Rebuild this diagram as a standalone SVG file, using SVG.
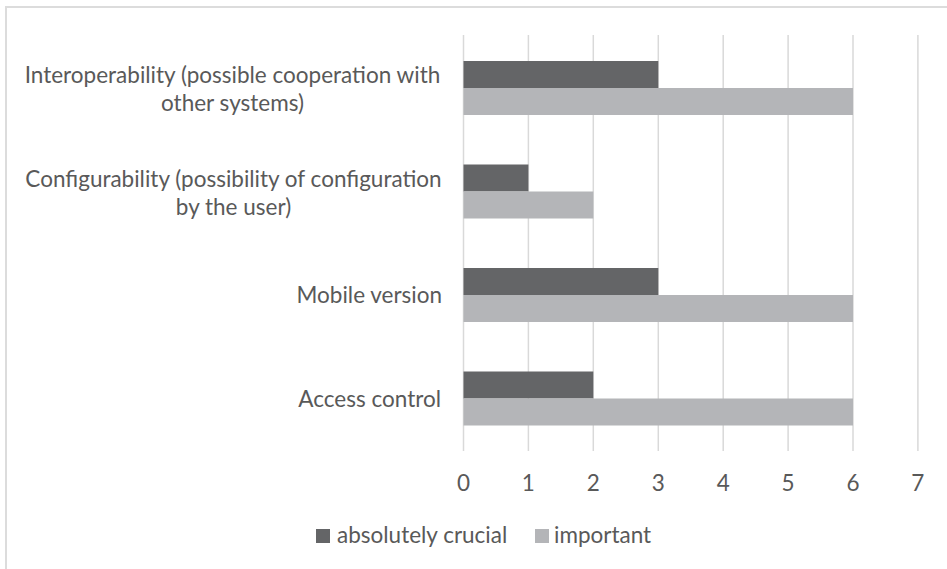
<svg xmlns="http://www.w3.org/2000/svg" width="947" height="569" viewBox="0 0 947 569">
  <style>
    .lbl { font-family: Lato, "Liberation Sans", sans-serif; font-size: 22.5px; fill: #595959; }
    .grid { stroke: #d9d9d9; stroke-width: 1.5; }
    .crucial { fill: #646567; }
    .important { fill: #b4b5b8; }
  </style>
  <rect x="0" y="0" width="947" height="569" fill="#ffffff"/>
  <!-- chart frame -->
  <rect x="6" y="7" width="1000" height="1000" fill="none" stroke="#dcdcdc" stroke-width="2"/>

  <!-- vertical gridlines at 0..7 -->
  <g id="gridlines">
    <line class="grid" x1="463.5" y1="35" x2="463.5" y2="451"/>
    <line class="grid" x1="528.4" y1="35" x2="528.4" y2="451"/>
    <line class="grid" x1="593.3" y1="35" x2="593.3" y2="451"/>
    <line class="grid" x1="658.3" y1="35" x2="658.3" y2="451"/>
    <line class="grid" x1="723.2" y1="35" x2="723.2" y2="451"/>
    <line class="grid" x1="788.1" y1="35" x2="788.1" y2="451"/>
    <line class="grid" x1="853" y1="35" x2="853" y2="451"/>
    <line class="grid" x1="917.9" y1="35" x2="917.9" y2="451"/>
  </g>

  <!-- bars -->
  <g id="interoperability">
    <rect class="crucial" x="463.5" y="61" width="194.8" height="27"/>
    <rect class="important" x="463.5" y="88" width="389.5" height="27"/>
    <text class="lbl" text-anchor="middle" x="232.5" y="83">Interoperability (possible cooperation with</text>
    <text class="lbl" text-anchor="middle" x="232.5" y="111">other systems)</text>
  </g>
  <g id="configurability">
    <rect class="crucial" x="463.5" y="164.5" width="64.9" height="27"/>
    <rect class="important" x="463.5" y="191.5" width="129.8" height="27"/>
    <text class="lbl" text-anchor="middle" x="233.5" y="187">Configurability (possibility of configuration</text>
    <text class="lbl" text-anchor="middle" x="233.5" y="215">by the user)</text>
  </g>
  <g id="mobile-version">
    <rect class="crucial" x="463.5" y="268" width="194.8" height="27"/>
    <rect class="important" x="463.5" y="295" width="389.5" height="27"/>
    <text class="lbl" text-anchor="end" x="442" y="303">Mobile version</text>
  </g>
  <g id="access-control">
    <rect class="crucial" x="463.5" y="371.5" width="129.8" height="27"/>
    <rect class="important" x="463.5" y="398.5" width="389.5" height="27"/>
    <text class="lbl" text-anchor="end" x="441" y="407">Access control</text>
  </g>

  <!-- value axis labels -->
  <g id="axis" class="lbl" text-anchor="middle">
    <text x="463.5" y="491">0</text>
    <text x="528.4" y="491">1</text>
    <text x="593.3" y="491">2</text>
    <text x="658.3" y="491">3</text>
    <text x="723.2" y="491">4</text>
    <text x="788.1" y="491">5</text>
    <text x="853" y="491">6</text>
    <text x="917.9" y="491">7</text>
  </g>

  <!-- legend -->
  <g id="legend">
    <rect class="crucial" x="316" y="529" width="14" height="14"/>
    <text class="lbl" x="337" y="543">absolutely crucial</text>
    <rect class="important" x="535" y="529" width="14" height="14"/>
    <text class="lbl" x="554" y="543">important</text>
  </g>
</svg>
